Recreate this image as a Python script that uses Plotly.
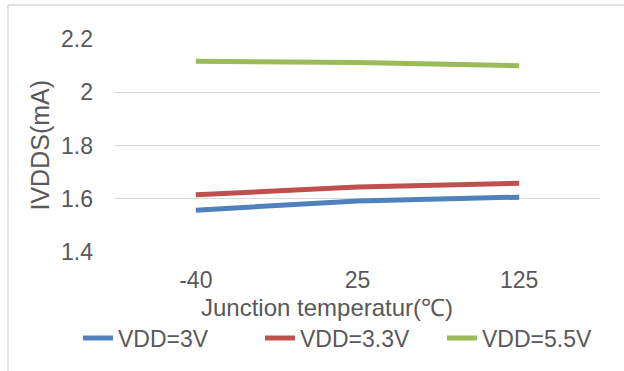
import plotly.graph_objects as go

temps = ["-40", "25", "125"]
vdd_3 = [1.557, 1.592, 1.606]
vdd_33 = [1.615, 1.644, 1.658]
vdd_55 = [2.116, 2.112, 2.100]
series_names = ["VDD=3V", "VDD=3.3V", "VDD=5.5V"]
colors = ["#4f81bd", "#c0504d", "#9bbb59"]
y_ticks = [1.4, 1.6, 1.8, 2.0, 2.2]
y_tick_text = ["1.4", "1.6", "1.8", "2", "2.2"]
x_title = "Junction temperatur(℃)"
y_title = "IVDDS(mA)"

fig = go.Figure()
for name, vals, col in zip(series_names, [vdd_3, vdd_33, vdd_55], colors):
    fig.add_trace(go.Scatter(x=temps, y=vals, mode="lines", name=name,
                             line=dict(color=col, width=5)))

font = "Liberation Sans, Arial, sans-serif"
grey = "#595959"
L, R, T, B = 115, 24, 39, 119
W, H = 624, 371
pw, ph = W - L - R, H - T - B

def px(x):
    return (x - L) / pw

def py(y):
    return (H - B - y) / ph

fig.update_layout(
    width=W, height=H,
    margin=dict(l=L, r=R, t=T, b=B),
    paper_bgcolor="white", plot_bgcolor="white",
    font=dict(family=font, color=grey),
    showlegend=True,
    legend=dict(orientation="h", x=px(98), xanchor="left", y=py(338), yanchor="middle",
                font=dict(size=23, color=grey), itemwidth=30, tracegroupgap=0,
                entrywidth=137, entrywidthmode="pixels"),
    xaxis=dict(type="category", range=[-0.5, 2.5], showgrid=False, zeroline=False,
               showline=False, ticks="", tickfont=dict(size=23, color=grey),
               ticklabelstandoff=12),
    yaxis=dict(range=[1.4, 2.2], tickvals=y_ticks, ticktext=y_tick_text,
               showgrid=True, gridcolor="#d9d9d9", gridwidth=1, zeroline=False,
               showline=False, ticks="", tickfont=dict(size=23, color=grey),
               ticklabelstandoff=21),
    annotations=[
        dict(text=x_title, xref="paper", yref="paper", x=px(327), y=py(307),
             xanchor="center", yanchor="middle", showarrow=False,
             font=dict(size=24, color=grey)),
        dict(text=y_title, xref="paper", yref="paper", x=px(39), y=py(145.5),
             xanchor="center", yanchor="middle", showarrow=False, textangle=-90,
             font=dict(size=25, color=grey)),
    ],
    shapes=[
        dict(type="line", xref="paper", yref="paper", x0=px(8), x1=px(8), y0=py(5), y1=py(371),
             line=dict(color="#d9d9d9", width=1.5)),
        dict(type="line", xref="paper", yref="paper", x0=px(8), x1=px(624), y0=py(5), y1=py(5),
             line=dict(color="#d9d9d9", width=1.5)),
    ],
)

fig.write_html("out.html")
